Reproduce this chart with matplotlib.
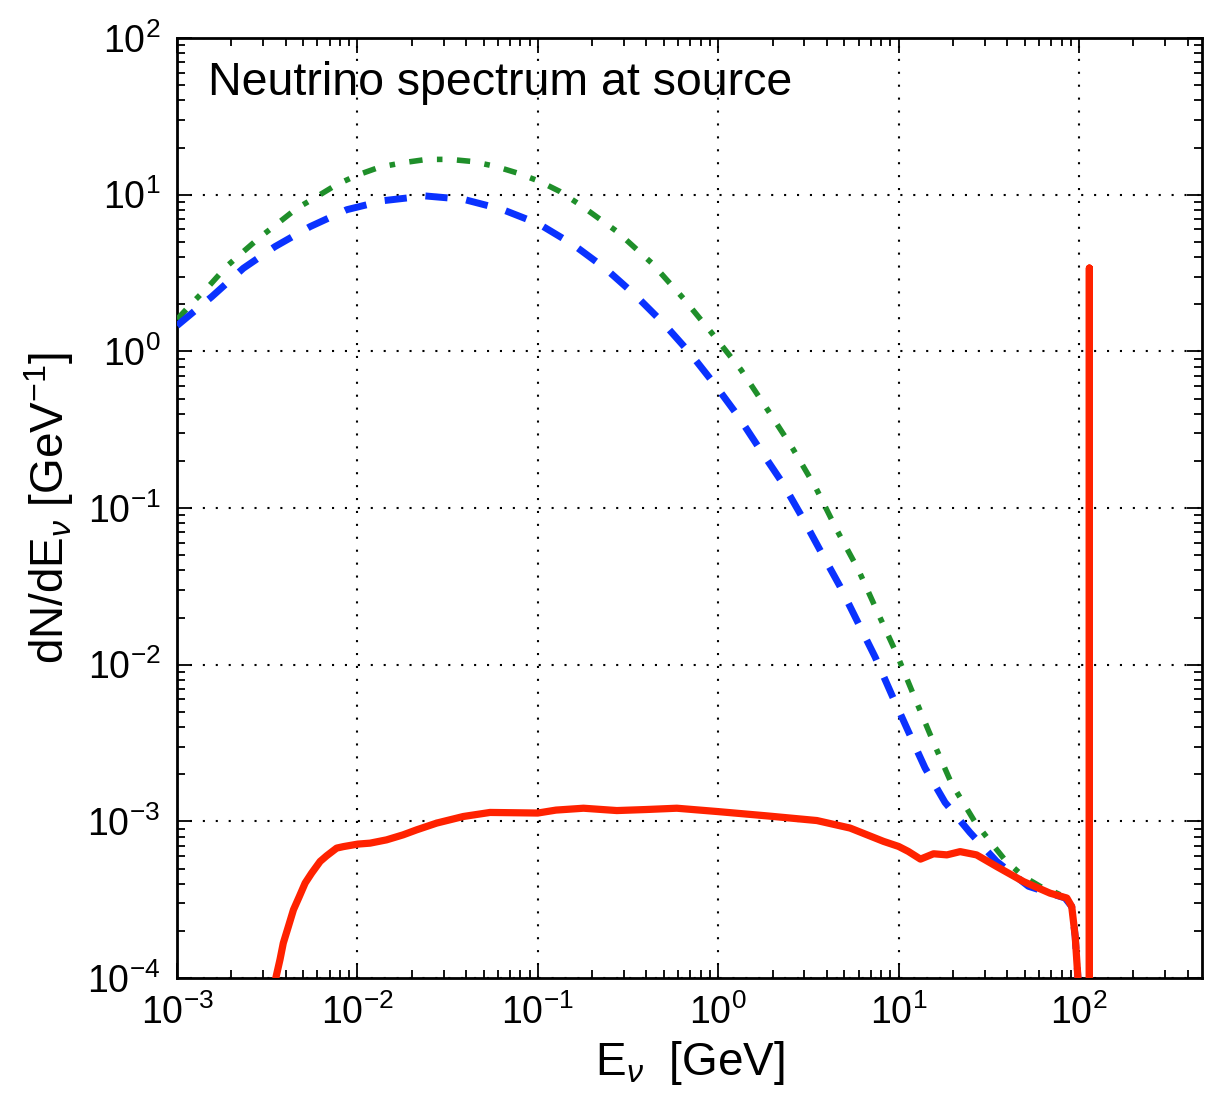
import numpy as np
import matplotlib
matplotlib.use("Agg")
import matplotlib.pyplot as plt
from matplotlib.ticker import LogLocator, FuncFormatter, NullFormatter

plt.rcParams['font.family'] = ['Liberation Sans', 'DejaVu Sans']
plt.rcParams['mathtext.fontset'] = 'custom'
plt.rcParams['mathtext.rm'] = 'Liberation Sans'
plt.rcParams['mathtext.it'] = 'Liberation Sans:italic'
plt.rcParams['mathtext.bf'] = 'Liberation Sans:bold'
plt.rcParams['axes.unicode_minus'] = False

# ---- data ----
blue_E = [1e-3, 1.556e-3, 2.33e-3, 3.49e-3, 5.46e-3, 8.73e-3, 1.393e-2, 2.37e-2, 3.86e-2,
          6.31e-2, 0.1007, 0.157, 0.236, 0.346, 0.497, 0.698, 0.959, 1.291, 1.706, 2.275,
          2.90, 3.74, 4.73, 5.97, 7.40, 9.16, 11.32, 14.0, 18.07, 24.8, 34.9, 52.4, 83.6,
          91.0, 95.1, 98.4, 100.0]
blue_N = [1.46, 2.23, 3.39, 4.66, 6.25, 8.02, 9.16, 9.82, 9.35,
          8.07, 6.53, 4.80, 3.39, 2.29, 1.51, 0.973, 0.612, 0.385, 0.236, 0.144,
          0.0885, 0.0516, 0.0316, 0.0184, 0.0112, 6.41e-3, 3.74e-3, 2.19e-3, 1.32e-3, 8.51e-4, 5.55e-4, 3.85e-4, 3.24e-4,
          2.86e-4, 1.85e-4, 1.02e-4, 5e-5]

green_E = [1e-3, 1.23e-3, 1.52e-3, 1.88e-3, 2.33e-3, 2.88e-3, 3.72e-3, 4.61e-3, 5.94e-3,
           7.67e-3, 1.01e-2, 1.33e-2, 1.79e-2, 2.42e-2, 3.26e-2, 4.30e-2, 5.78e-2, 7.62e-2,
           0.1016, 0.132, 0.171, 0.274, 0.428, 0.640, 0.920, 1.337, 1.879, 2.58, 3.48, 4.54,
           5.98, 7.64, 9.75, 12.3, 15.5, 19.6, 26.5, 32.1, 38.8, 49.1, 60.7, 74.1, 85.5,
           91.0, 95.1, 98.4, 100.0]
green_N = [1.60, 2.07, 2.65, 3.48, 4.33, 5.35, 6.73, 8.18, 9.70,
           11.6, 13.4, 15.0, 16.0, 16.8, 16.8, 16.3, 15.2, 13.8,
           12.2, 10.5, 8.63, 5.83, 3.66, 2.18, 1.31, 0.762, 0.423, 0.241, 0.134, 0.0724,
           0.0403, 0.0216, 0.0117, 6.11e-3, 3.24e-3, 1.75e-3, 9.89e-4, 7.45e-4, 5.68e-4, 4.45e-4, 3.85e-4, 3.51e-4, 3.24e-4,
           2.86e-4, 1.85e-4, 1.02e-4, 5e-5]

red_E = [3.47e-3, 3.54e-3, 3.72e-3, 3.88e-3, 4.14e-3, 4.42e-3, 4.76e-3, 5.13e-3, 5.57e-3,
         6.21e-3, 6.75e-3, 7.67e-3, 8.36e-3, 1.005e-2, 1.175e-2, 1.45e-2, 1.79e-2, 2.13e-2,
         2.75e-2, 3.86e-2, 5.43e-2, 7.4e-2, 9.98e-2, 0.126, 0.179, 0.274, 0.398, 0.589, 0.982,
         1.858, 3.52, 5.38, 8.24, 9.98, 11.3, 13.2, 15.6, 18.5, 21.9, 27.0, 34.9, 49.1, 69.0,
         85.5, 91.0, 95.1, 98.4, 100.0, 114.0, 114.0, 114.0]
red_N = [8.9e-5, 1.02e-4, 1.31e-4, 1.67e-4, 2.13e-4, 2.73e-4, 3.31e-4, 4.04e-4, 4.67e-4,
         5.55e-4, 6.03e-4, 6.75e-4, 6.90e-4, 7.16e-4, 7.26e-4, 7.62e-4, 8.20e-4, 8.83e-4,
         9.75e-4, 1.074e-3, 1.140e-3, 1.135e-3, 1.130e-3, 1.18e-3, 1.213e-3, 1.172e-3, 1.19e-3, 1.213e-3, 1.156e-3,
         1.084e-3, 1.012e-3, 9.06e-4, 7.45e-4, 6.92e-4, 6.43e-4, 5.74e-4, 6.21e-4, 6.11e-4, 6.41e-4, 6.11e-4, 5.15e-4, 4.13e-4, 3.48e-4,
         3.24e-4, 2.86e-4, 1.85e-4, 1.02e-4, 5e-5, 5e-5, 3.4, 5e-5]

x_ticks = [1e-3, 1e-2, 1e-1, 1e0, 1e1, 1e2]
y_ticks = [1e-4, 1e-3, 1e-2, 1e-1, 1e0, 1e1, 1e2]

fig = plt.figure(figsize=(12.06, 11.02), dpi=100)
ax = fig.add_axes([0.1468, 0.1125, 0.9967 - 0.1468, 0.9655 - 0.1125])

ax.plot(green_E, green_N, color='#1f8f2a', lw=4.0, linestyle=(0, (2.4, 2.6, 1.0, 2.6)),
        dash_capstyle='butt', zorder=3)
ax.plot(blue_E, blue_N, color='#0a32ff', lw=5.0, linestyle=(0, (3.2, 2.7)),
        dash_capstyle='butt', zorder=4)
ax.plot(red_E, red_N, color='#ff2200', lw=5.2, solid_joinstyle='round',
        solid_capstyle='round', zorder=5)

ax.set_xscale('log')
ax.set_yscale('log')
ax.set_xlim(1e-3, 480)
ax.set_ylim(1e-4, 1e2)

def fmt(v, pos):
    e = int(round(np.log10(v)))
    return r'$\mathregular{10^{%d}}$' % e

ax.xaxis.set_major_locator(LogLocator(base=10, numticks=20))
ax.yaxis.set_major_locator(LogLocator(base=10, numticks=20))
ax.xaxis.set_minor_locator(LogLocator(base=10, subs=np.arange(2, 10), numticks=20))
ax.yaxis.set_minor_locator(LogLocator(base=10, subs=np.arange(2, 10), numticks=20))
ax.xaxis.set_major_formatter(FuncFormatter(fmt))
ax.yaxis.set_major_formatter(FuncFormatter(fmt))
ax.xaxis.set_minor_formatter(NullFormatter())
ax.yaxis.set_minor_formatter(NullFormatter())

ax.tick_params(which='both', direction='in', top=True, right=True, width=1.3, colors='black')
ax.tick_params(which='major', length=11, labelsize=27, pad=12)
ax.tick_params(which='minor', length=5.5)
for sp in ax.spines.values():
    sp.set_linewidth(2.0)

ax.grid(True, which='major', color='black', linestyle=(0, (1, 5.2)), linewidth=1.5)
ax.set_axisbelow(False)

ax.set_xlabel(r'E$_\nu$  [GeV]', fontsize=33, labelpad=5)
ax.set_ylabel(r'dN/dE$_\nu$ [GeV$^{-1}$]', fontsize=33, labelpad=8)

ax.text(0.030, 0.939, 'Neutrino spectrum at source', transform=ax.transAxes,
        fontsize=33.5, ha='left', va='baseline')

fig.savefig('out.png', dpi=100)
